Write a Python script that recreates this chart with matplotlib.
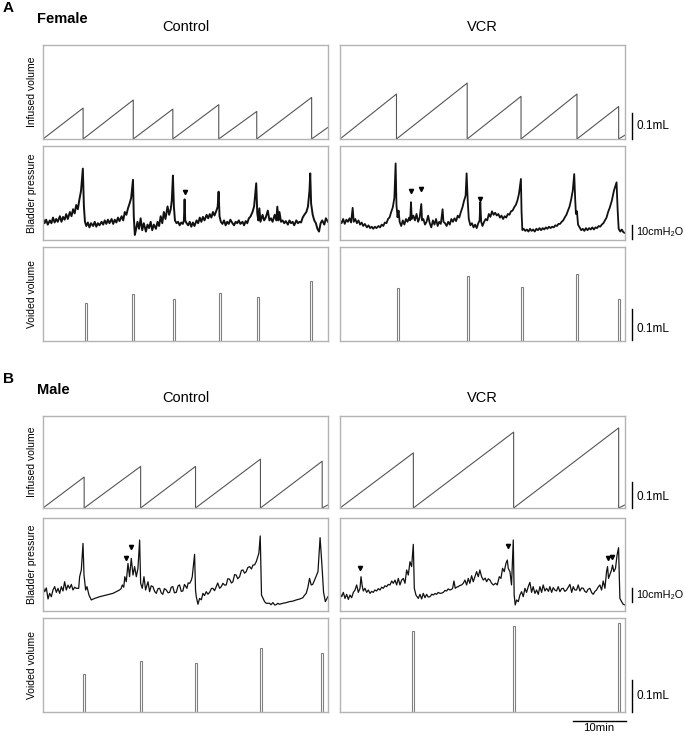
import numpy as np
import matplotlib
matplotlib.use('Agg')
import matplotlib.pyplot as plt

plt.rcParams['font.family'] = ['Liberation Sans', 'DejaVu Sans']
plt.rcParams['mathtext.default'] = 'regular'

T_END = 54.0  # minutes shown in each trace

# ---- infused volume (mL): void times (min), volume reached at each void, volume at trace end
fc_void_t = [7.6, 17.1, 24.6, 33.3, 40.5, 50.9]
fc_infused = [0.119, 0.150, 0.115, 0.132, 0.106, 0.160]
fc_infused_end = 0.045
fv_void_t = [10.7, 24.1, 34.3, 44.9, 52.8]
fv_infused = [0.173, 0.215, 0.164, 0.173, 0.125]
fv_infused_end = 0.015
mc_void_t = [7.8, 18.5, 28.9, 41.2, 52.9]
mc_infused = [0.119, 0.160, 0.160, 0.188, 0.180]
mc_infused_end = 0.012
mv_void_t = [13.9, 32.9, 52.8]
mv_infused = [0.212, 0.292, 0.308]
mv_infused_end = 0.012

# ---- voided volume (mL)
fc_bar_t = [8.1, 17.1, 24.9, 33.6, 40.8, 50.8]
fc_voided = [0.122, 0.152, 0.135, 0.154, 0.143, 0.193]
fv_bar_t = [11.0, 24.3, 34.5, 44.9, 52.8]
fv_voided = [0.170, 0.210, 0.175, 0.215, 0.136]
mc_bar_t = [7.8, 18.5, 28.9, 41.3, 52.9]
mc_voided = [0.119, 0.160, 0.153, 0.200, 0.184]
mv_bar_t = [13.9, 33.0, 52.9]
mv_voided = [0.254, 0.270, 0.278]

# ---- bladder pressure (cmH2O, offset to trace floor)
fc_t = [0.0, 0.3, 0.6, 0.9, 1.3, 1.6, 1.9, 2.2, 2.5, 2.8, 3.2, 3.5, 3.8, 4.1, 4.4, 4.7, 5.1, 5.4, 5.7, 6.0,
        6.3, 6.6, 6.9, 7.2, 7.55, 7.75, 7.95, 8.2, 8.5, 8.8, 9.1, 9.5, 9.8, 10.1, 10.4, 10.7, 11.1, 11.4,
        11.7, 12.0, 12.3, 12.6, 13.0, 13.3, 13.6, 13.9, 14.2, 14.5, 14.9, 15.2, 15.5, 15.8, 16.1, 16.4,
        16.7, 17.05, 17.2, 17.4, 17.6, 17.9, 18.2, 18.5, 18.8, 19.1, 19.5, 19.8, 20.1, 20.4, 20.7, 21.0,
        21.4, 21.7, 22.0, 22.3, 22.6, 22.9, 23.2, 23.6, 23.9, 24.2, 24.4, 24.62, 24.8, 25.0, 25.3, 25.6,
        25.9, 26.2, 26.5, 26.7, 26.83, 26.95, 27.2, 27.5, 27.8, 28.1, 28.4, 28.7, 29.1, 29.4, 29.7, 30.0,
        30.3, 30.6, 31.0, 31.3, 31.6, 31.9, 32.2, 32.5, 32.9, 33.1, 33.27, 33.45, 33.7, 34.0, 34.3, 34.6,
        34.9, 35.2, 35.5, 35.9, 36.2, 36.5, 36.8, 37.1, 37.4, 37.8, 38.1, 38.4, 38.7, 39.0, 39.3, 39.7,
        40.0, 40.4, 40.6, 40.8, 41.0, 41.2, 41.6, 41.9, 42.2, 42.6, 42.9, 43.2, 43.5, 43.9, 44.2, 44.4,
        44.6, 44.8, 45.1, 45.4, 45.7, 46.0, 46.4, 46.7, 47.0, 47.3, 47.6, 48.0, 48.3, 48.6, 48.9, 49.2,
        49.5, 49.9, 50.2, 50.5, 50.63, 50.8, 51.1, 51.4, 51.7, 52.0, 52.3, 52.6, 52.9, 53.3, 53.6, 54.0]
fc_p = [15.5, 12, 14.5, 11, 14, 12, 16, 12.5, 15, 13, 17, 13, 16.5, 14.5, 18.5, 15, 20, 17, 22, 19,
        25, 22, 29, 35, 51, 24, 13, 10, 12.5, 9, 12, 10, 13, 9.5, 12, 10.5, 13, 11,
        14, 11.5, 14.5, 12, 15, 11.5, 14.5, 12.5, 16, 13.5, 17, 14, 20, 18, 22.6, 26,
        30, 43, 17, 3.6, 7, 13, 8, 15.5, 7, 12, 6, 11, 8.5, 13, 7, 11,
        8, 13, 10, 17, 12, 20, 15, 24, 18, 22, 28, 46, 24, 14, 12, 13,
        10.5, 12.5, 11.5, 14, 29, 14, 12, 10.5, 13, 9.5, 12.5, 10, 14, 12, 16, 13,
        16.5, 14, 18, 15.5, 18.5, 16, 20, 17.5, 21.5, 23.8, 34.5, 17, 13, 11.5, 14, 10.5,
        13, 11.5, 14.5, 12, 10.5, 13, 12, 14, 11.5, 13, 10.5, 13.5, 12, 15.5, 16.7, 20,
        24, 40.5, 19, 14, 22.6, 13, 18, 14, 16, 21, 14, 15.5, 13, 18, 14, 23.8,
        14, 20, 13, 14, 12, 13.5, 11, 14, 12, 13, 10.5, 14, 12, 13, 12.5, 16,
        17.9, 20, 23.8, 35.7, 47.6, 26, 18, 14, 12, 8, 6, 12, 14, 11, 15.5, 13]

fv_t = [0.0, 0.3, 0.6, 0.9, 1.2, 1.5, 1.8, 2.1, 2.4, 2.6, 2.9, 3.2, 3.5, 3.8, 4.1, 4.4, 4.7, 5.1, 5.4, 5.7,
        6.0, 6.3, 6.6, 6.9, 7.3, 7.6, 7.9, 8.2, 8.5, 8.8, 9.1, 9.4, 9.7, 10.0, 10.3, 10.54, 10.7, 10.9,
        11.1, 11.3, 11.6, 11.9, 12.2, 12.5, 12.8, 13.1, 13.3, 13.45, 13.6, 13.9, 14.2, 14.5, 14.8, 15.1,
        15.4, 15.55, 15.8, 16.1, 16.4, 16.7, 17.0, 17.3, 17.6, 17.9, 18.2, 18.5, 18.8, 19.1, 19.44, 19.6,
        19.9, 20.2, 20.5, 20.8, 21.1, 21.4, 21.7, 22.0, 22.3, 22.6, 22.9, 23.2, 23.5, 23.8, 23.99, 24.2,
        24.4, 24.7, 25.0, 25.3, 25.6, 25.9, 26.2, 26.45, 26.58, 26.75, 27.0, 27.3, 27.6, 27.9, 28.2, 28.5,
        28.8, 29.1, 29.4, 29.7, 30.0, 30.3, 30.6, 30.9, 31.2, 31.5, 31.8, 32.1, 32.4, 32.7, 33.0, 33.3,
        33.6, 33.9, 34.28, 34.4, 34.55, 34.8, 35.1, 35.4, 35.7, 36.0, 36.3, 36.6, 36.9, 37.2, 37.5, 37.8,
        38.1, 38.4, 38.7, 39.0, 39.3, 39.6, 39.9, 40.2, 40.5, 40.8, 41.1, 41.4, 41.7, 42.0, 42.3, 42.6,
        42.9, 43.2, 43.5, 43.8, 44.1, 44.38, 44.55, 44.7, 44.9, 45.1, 45.4, 45.7, 46.0, 46.3, 46.6, 46.9,
        47.2, 47.5, 47.8, 48.1, 48.4, 48.7, 49.0, 49.3, 49.6, 49.9, 50.2, 50.5, 50.8, 51.1, 51.5, 51.9,
        52.4, 52.6, 52.8, 53.1, 53.4, 53.7, 54.0]
fv_p = [14, 12, 15, 11.5, 14.5, 13, 15.5, 12.5, 23, 13, 15, 12, 14, 11, 12.5, 10, 11.5, 9, 10.5, 8.5,
        9.5, 8, 9.5, 8.5, 10, 9, 11, 10, 12.5, 12, 15, 16.2, 20, 23.3, 30, 54.7, 25, 16.2,
        21, 13, 10, 14, 11, 15, 13, 16, 14, 27, 15, 17.4, 14, 18.6, 13, 16,
        25.7, 14, 15, 11, 13, 17.4, 12, 9, 14, 11, 15, 10, 13, 11.5, 22, 13,
        12, 10, 13, 11, 15, 13, 15.5, 13.5, 17.4, 16, 20, 23.3, 28, 31.7, 47.6, 28,
        15, 10.5, 12, 9, 11, 8.5, 12, 14, 27, 13, 10, 13, 15, 14, 18.6, 16.5,
        20.5, 18, 19.5, 17.5, 18.6, 16, 17.4, 15, 17, 16, 18.6, 18, 20.5, 21, 23.3, 25,
        28, 32.8, 43.6, 20, 7.1, 8, 6.5, 7.5, 6, 8, 6.5, 7.5, 6, 8, 7, 8.5,
        7, 8.5, 7.5, 9, 8, 9.5, 8.5, 9.5, 9, 10.5, 10, 11.5, 11.5, 13, 14, 16.2,
        18, 21, 24, 29, 35.2, 47.1, 30, 18.6, 20.5, 11, 9, 7, 8, 6.5, 8.5, 7,
        8.5, 7.5, 9, 7.5, 9, 8.5, 10, 9.5, 11, 12, 14, 16, 20, 23, 28, 35.2,
        41.2, 22, 8, 6, 7.5, 5.5, 5]

mc_t = [0.0, 0.32, 0.63, 0.95, 1.26, 1.58, 1.89, 2.21, 2.53, 2.84, 3.16, 3.47, 3.79, 4.1, 4.42, 4.73, 5.05,
        5.37, 5.68, 6.0, 6.31, 6.76, 6.94, 7.26, 7.58, 7.77, 8.08, 8.33, 8.71, 9.15, 9.79, 10.73, 11.36,
        12.0, 12.6, 13.26, 13.9, 14.5, 14.8, 15.03, 15.3, 15.5, 15.78, 16.1, 16.4, 16.73, 17.05, 17.36,
        17.68, 17.99, 18.31, 18.5, 18.81, 19.13, 19.44, 19.89, 20.2, 20.5, 20.83, 21.15, 21.46, 21.8,
        22.1, 22.4, 22.7, 23.0, 23.36, 23.7, 23.99, 24.3, 24.6, 24.9, 25.25, 25.6, 25.88, 26.2, 26.5,
        26.8, 27.27, 27.5, 27.8, 28.1, 28.28, 28.72, 28.9, 29.04, 29.36, 29.67, 30.0, 30.3, 30.6, 30.93,
        31.25, 31.57, 31.9, 32.2, 32.5, 32.83, 33.1, 33.46, 33.8, 34.09, 34.4, 34.72, 35.0, 35.35, 35.7,
        35.98, 36.3, 36.6, 36.9, 37.25, 37.6, 37.88, 38.2, 38.5, 38.8, 39.14, 39.5, 39.77, 40.1, 40.4,
        40.9, 41.16, 41.4, 41.98, 42.3, 42.93, 43.2, 43.56, 43.9, 44.19, 44.5, 44.8, 45.45, 46.1, 46.7,
        47.3, 47.98, 48.6, 49.24, 49.5, 49.87, 50.2, 50.5, 50.82, 51.1, 51.45, 51.77, 52.1, 52.5, 52.85,
        53.16, 53.5, 53.98]
mc_p = [17.4, 13.8, 16.5, 8.6, 12.6, 10.2, 15, 17.4, 13.3, 16.2, 12.6, 17.4, 14.3, 20.9, 15, 18.5, 16.2,
        19, 15, 17, 16.2, 16.2, 24.5, 29.3, 48.3, 25.7, 15, 17.4, 11.4, 7.9, 9, 10.2, 10.8,
        11.4, 12, 12.6, 13.8, 15, 16, 18.6, 17, 24.5, 20.9, 34, 24.5, 37.6, 25.7, 31.7,
        24.5, 30.5, 50.7, 19.8, 16.2, 24.5, 15, 20.9, 13.8, 18, 17.4, 14, 12.6, 16,
        16.2, 13, 11.9, 16, 15, 13, 13.3, 17, 17.4, 13, 13.3, 18, 18.6, 14, 14.3,
        19, 16.2, 20, 19.8, 22, 24.5, 40.5, 15, 10.2, 4.8, 9, 8, 12.6, 11, 13.8,
        12, 13.3, 16, 16.2, 14.5, 17.4, 20, 16.2, 17.5, 19.8, 18.5, 18.6, 23, 22.8, 20,
        20.9, 26, 25.7, 23, 24.5, 29, 29.3, 27, 28.1, 31, 31.7, 30, 32.8, 33, 35.2,
        41.2, 53.6, 11.4, 6.7, 5.5, 5.5, 4.5, 6, 4.3, 4.5, 5.5, 4.8, 5.5, 6, 6.7,
        7, 7.9, 8.5, 9.5, 11, 12.6, 17, 23.3, 18.6, 19, 22, 25, 28.1, 52.4, 32.8,
        13.3, 6.7, 10.2]

mv_t = [0.0, 0.32, 0.63, 0.95, 1.26, 1.58, 1.89, 2.21, 2.53, 2.84, 3.16, 3.47, 3.79, 3.98, 4.23, 4.42, 4.73,
        5.05, 5.37, 5.68, 6.0, 6.31, 6.6, 6.94, 7.26, 7.58, 7.9, 8.21, 8.5, 8.84, 9.15, 9.47, 9.79, 10.1,
        10.42, 10.73, 11.05, 11.36, 11.68, 12.0, 12.31, 12.63, 12.94, 13.26, 13.57, 13.89, 14.08, 14.39,
        14.84, 15.15, 15.47, 15.78, 16.1, 16.41, 16.7, 17.05, 17.4, 17.68, 18.0, 18.31, 18.6, 18.94, 19.3,
        19.57, 19.9, 20.2, 20.5, 20.83, 21.15, 21.34, 21.59, 21.84, 22.1, 22.4, 22.7, 23.04, 23.36, 23.67,
        23.99, 24.3, 24.6, 24.94, 25.25, 25.57, 25.88, 26.2, 26.5, 26.83, 27.15, 27.5, 27.78, 28.1, 28.4,
        28.7, 29.04, 29.5, 29.8, 30.18, 30.5, 30.8, 31.12, 31.44, 31.7, 31.88, 32.2, 32.5, 32.83, 33.0,
        33.2, 33.46, 33.78, 34.09, 34.4, 34.72, 35.04, 35.35, 35.67, 35.98, 36.3, 36.6, 36.93, 37.25,
        37.56, 37.88, 38.2, 38.5, 38.83, 39.14, 39.5, 39.77, 40.1, 40.4, 40.7, 41.03, 41.35, 41.67, 42.0,
        42.3, 42.6, 42.93, 43.25, 43.56, 43.9, 44.19, 44.5, 44.82, 45.14, 45.45, 45.8, 46.1, 46.4, 46.7,
        47.0, 47.35, 47.7, 47.98, 48.3, 48.6, 48.9, 49.24, 49.56, 49.87, 50.2, 50.5, 50.69, 50.88, 51.1,
        51.45, 51.64, 51.89, 52.2, 52.5, 52.78, 53.03, 53.35, 53.66, 53.98]
mv_p = [12.6, 10.2, 13.3, 9, 11.9, 8.3, 11.4, 9.5, 13.3, 15, 18.6, 13.3, 16.2, 24.5, 17.4, 14.3, 16.2,
        13.3, 15, 12.6, 14, 13.3, 15, 14.3, 16, 15, 17, 16.2, 18, 17.4, 19, 18.6, 21.4, 19.8,
        22.1, 18.6, 23.3, 18.6, 22.1, 23.3, 19.8, 29.3, 25.7, 35.2, 31.7, 47.6, 16.2, 11.4,
        9, 11.9, 8.6, 12.6, 9.5, 11.9, 10, 10.2, 12, 11.4, 12.5, 11.9, 13.3, 12.6, 12.8,
        13.3, 14.7, 14.3, 15.8, 15, 15.5, 16.2, 21.4, 16.2, 17, 17.4, 18.2, 18.6, 19.8, 22.1,
        18.6, 23.3, 19.8, 25.2, 20.9, 24.5, 28.1, 24.5, 29.3, 24.5, 22.1, 23.5, 20.9, 23, 22.1,
        20, 18.6, 19.8, 18.6, 24.5, 23.3, 30.5, 28.1, 34, 36.4, 30.5, 28.1, 18.6, 50.7, 11.4,
        4.3, 7.9, 6.7, 11.4, 13.8, 10.2, 16.2, 13.3, 17.4, 20.5, 13.3, 17.4, 12.6, 15,
        11.9, 17.4, 13.3, 18.6, 14.3, 16.2, 14, 17.4, 13.3, 16.7, 15, 14.3, 17.4, 13.8, 16,
        16.2, 14, 15, 17, 19, 13.3, 17.4, 15, 15, 18.6, 14.3, 16.5, 16.2, 14, 13.3,
        15.5, 16.2, 13, 11.9, 14, 15, 17, 18.6, 15, 21.4, 16.2, 28.1, 31.7, 23.3, 25.7,
        29.3, 32.8, 28.1, 30.5, 40, 45.2, 9, 6.7, 4.8, 4.3]

# arrowheads marking non-voiding contractions (min, cmH2O)
fc_arrow_t, fc_arrow_p = [26.83], [34.5]
fv_arrow_t, fv_arrow_p = [13.45, 15.4, 26.58], [35.2, 36.4, 29.3]
mc_arrow_t, mc_arrow_p = [15.78, 16.73], [38.1, 45.9]
mv_arrow_t, mv_arrow_p = [3.79, 31.75, 50.69, 51.58], [30.9, 46.6, 37.6, 38.8]

W, H = 685, 735
FRAME = '#b3b3b3'
TRACE = '#111111'
SAW = '#555555'


def rect(x, y, w, h):
    return [x / W, 1 - (y + h) / H, w / W, h / H]


def frame(ax):
    ax.set_xticks([])
    ax.set_yticks([])
    for s in ax.spines.values():
        s.set_color(FRAME)
        s.set_linewidth(1.0)
    ax.set_xlim(0, T_END)


def sawtooth(void_t, peaks, end_v):
    xs, ys = [0.0], [0.0]
    for t, v in zip(void_t, peaks):
        xs += [t, t]
        ys += [v, 0.0]
    xs.append(T_END)
    ys.append(end_v)
    return xs, ys


fig = plt.figure(figsize=(W / 100, H / 100), dpi=100)

panels = [
    dict(letter='A', sex='Female', y0=3, tops=[45, 146, 247], hs=[94, 94, 94], vscale=310,
         pbar=(0.7, 10.7), ptext=5.7, itext=0.05, vbar=(0.003, 0.103), vtext=0.04,
         conds=[(fc_void_t, fc_infused, fc_infused_end, fc_t, fc_p, fc_arrow_t, fc_arrow_p, fc_bar_t, fc_voided, 1.4),
                (fv_void_t, fv_infused, fv_infused_end, fv_t, fv_p, fv_arrow_t, fv_arrow_p, fv_bar_t, fv_voided, 1.3)]),
    dict(letter='B', sex='Male', y0=374, tops=[416, 518, 618], hs=[92, 93, 94], vscale=320,
         pbar=(6.4, 16.4), ptext=11.4, itext=0.042, vbar=(0.0, 0.1), vtext=0.05,
         conds=[(mc_void_t, mc_infused, mc_infused_end, mc_t, mc_p, mc_arrow_t, mc_arrow_p, mc_bar_t, mc_voided, 0.9),
                (mv_void_t, mv_infused, mv_infused_end, mv_t, mv_p, mv_arrow_t, mv_arrow_p, mv_bar_t, mv_voided, 0.9)]),
]

col_x = [43, 340]
col_w = 285
bar_x = 55.3
txt_x = 56.2

for pan in panels:
    y0 = pan['y0']
    fig.text(3 / W, 1 - (y0 + 5) / H, pan['letter'], fontsize=11, fontweight='bold', va='center', ha='left')
    fig.text(37 / W, 1 - (y0 + 16) / H, pan['sex'], fontsize=10.5, fontweight='bold', va='center', ha='left')
    for ci, name in enumerate(['Control', 'VCR']):
        fig.text((col_x[ci] + col_w / 2) / W, 1 - (y0 + 24) / H, name, fontsize=10.5, va='center', ha='center')

    tops, hs = pan['tops'], pan['hs']
    for lab, top, h in zip(['Infused volume', 'Bladder pressure', 'Voided volume'], tops, hs):
        fig.text(32 / W, 1 - (top + h / 2) / H, lab, fontsize=7.5, rotation=90, va='center', ha='center')

    for ci, cond in enumerate(pan['conds']):
        vt, vi, ve, pt, pp, at, ap, bt, bv, lw = cond
        x = col_x[ci]

        ax1 = fig.add_axes(rect(x, tops[0], col_w, hs[0]))
        frame(ax1)
        sx, sy = sawtooth(vt, vi, ve)
        ax1.plot(sx, sy, color=SAW, lw=0.8)
        ax1.set_ylim(0, hs[0] / 260)

        ax2 = fig.add_axes(rect(x, tops[1], col_w, hs[1]))
        frame(ax2)
        ax2.plot(pt, pp, color=TRACE, lw=lw)
        ax2.plot(at, ap, linestyle='none', marker='v', color='black', markersize=3)
        ax2.set_ylim(0, hs[1] / 1.4)

        ax3 = fig.add_axes(rect(x, tops[2], col_w, hs[2]))
        frame(ax3)
        ax3.bar(bt, bv, width=0.38, facecolor='white', edgecolor='#808080', linewidth=0.8)
        ax3.set_ylim(0, hs[2] / pan['vscale'])

        if ci == 1:
            ax1.plot([bar_x, bar_x], [0, 0.1], color='black', lw=1.0, clip_on=False)
            ax1.text(txt_x, pan['itext'], '0.1mL', fontsize=8.5, va='center', ha='left')
            ax2.plot([bar_x, bar_x], list(pan['pbar']), color='black', lw=1.0, clip_on=False)
            ax2.text(txt_x, pan['ptext'], '10cmH\u2082O', fontsize=7.8, va='center', ha='left')
            ax3.plot([bar_x, bar_x], list(pan['vbar']), color='black', lw=1.0, clip_on=False)
            ax3.text(txt_x, pan['vtext'], '0.1mL', fontsize=8.5, va='center', ha='left')
            if pan['letter'] == 'B':
                tr = ax3.get_xaxis_transform()
                ax3.plot([44.1, 54.1], [-0.096, -0.096], color='black', lw=1.0, transform=tr, clip_on=False)
                ax3.text(49.1, -0.12, '10min', fontsize=8.2, ha='center', va='top', transform=tr)

fig.savefig('out.png', dpi=100)
